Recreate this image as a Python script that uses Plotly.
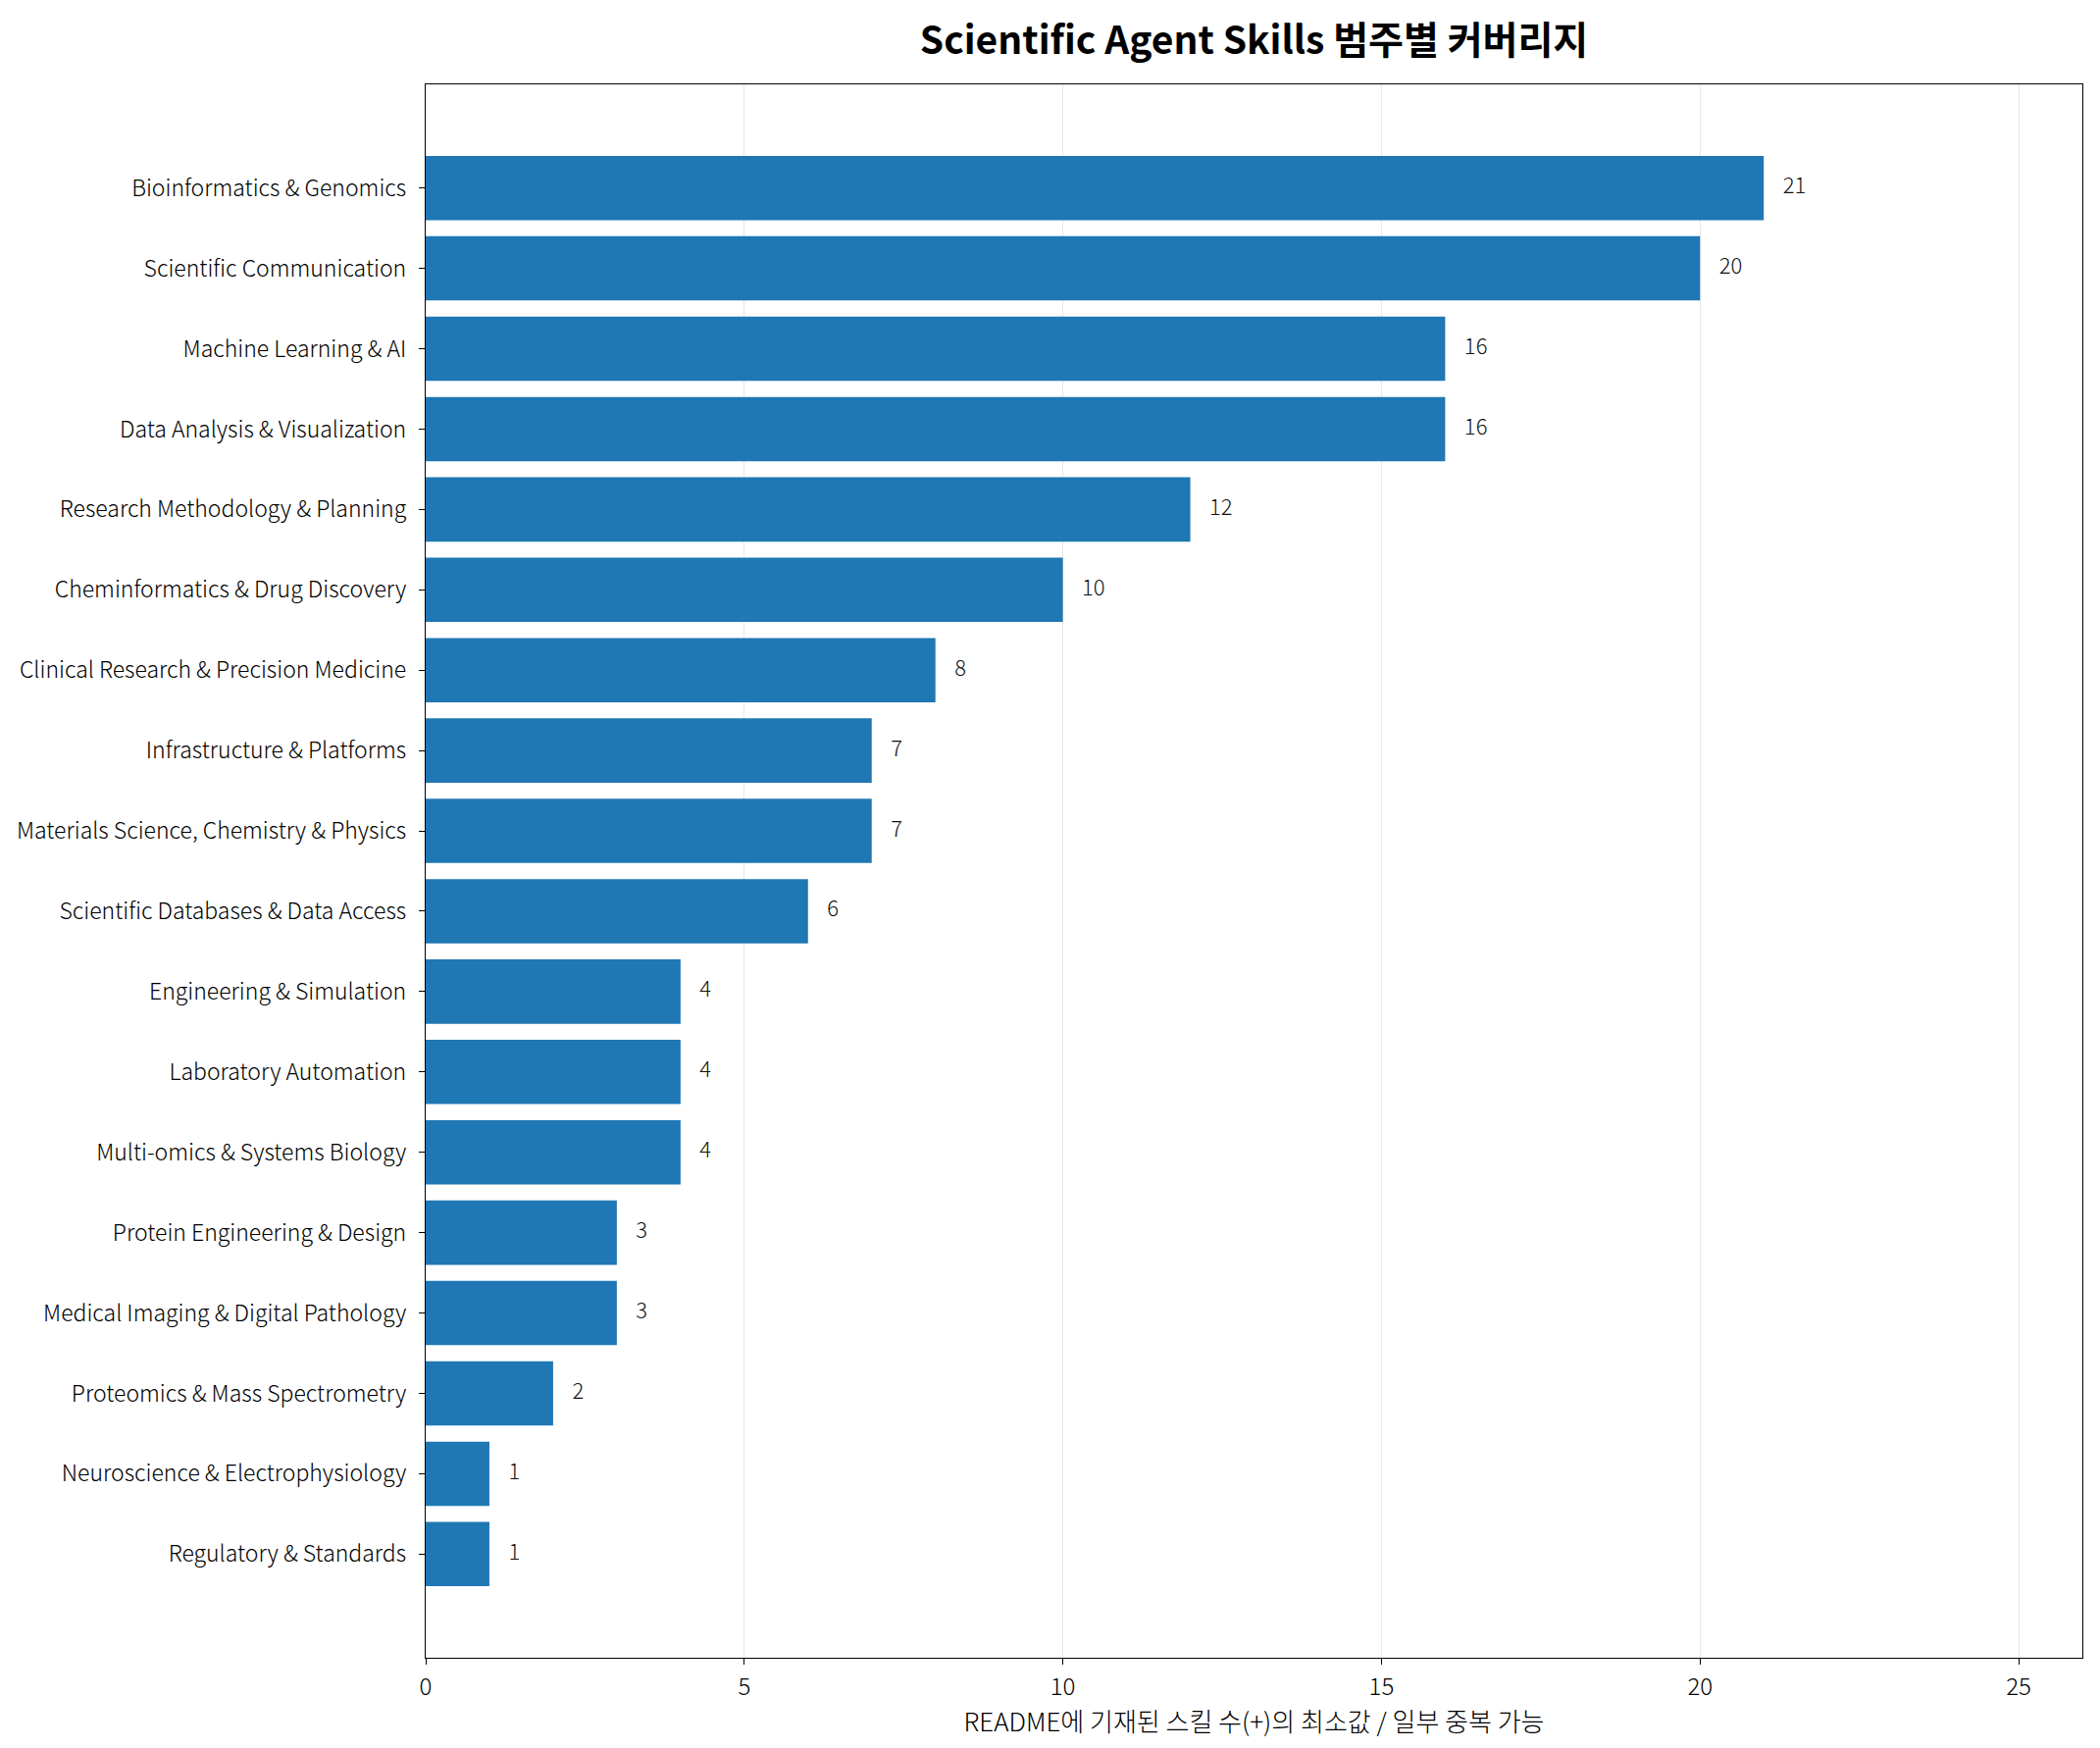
import plotly.graph_objects as go

categorias = [
    "Bioinformatics & Genomics",
    "Scientific Communication",
    "Machine Learning & AI",
    "Data Analysis & Visualization",
    "Research Methodology & Planning",
    "Cheminformatics & Drug Discovery",
    "Clinical Research & Precision Medicine",
    "Infrastructure & Platforms",
    "Materials Science, Chemistry & Physics",
    "Scientific Databases & Data Access",
    "Engineering & Simulation",
    "Laboratory Automation",
    "Multi-omics & Systems Biology",
    "Protein Engineering & Design",
    "Medical Imaging & Digital Pathology",
    "Proteomics & Mass Spectrometry",
    "Neuroscience & Electrophysiology",
    "Regulatory & Standards",
]
contagens = [21, 20, 16, 16, 12, 10, 8, 7, 7, 6, 4, 4, 4, 3, 3, 2, 1, 1]
ticks_x = [0, 5, 10, 15, 20, 25]

fonte = "Noto Sans CJK KR, Noto Sans, sans-serif"
n = len(categorias)

# a pagina tem 8px de margem no body, entao a figura fica um pouco menor
largura, altura = 2125, 1766

fig = go.Figure()

fig.add_trace(go.Bar(
    x=contagens, y=list(range(n)), orientation='h',
    marker=dict(color='#1f77b4', line=dict(width=0)),
    width=0.8, hoverinfo='skip', showlegend=False
))

fig.add_trace(go.Scatter(
    x=[v + 0.3 for v in contagens], y=list(range(n)),
    mode='text', text=[str(v) for v in contagens],
    textposition='middle right',
    textfont=dict(family=fonte, size=22, color='#111111', weight=300),
    hoverinfo='skip', showlegend=False
))

fig.update_layout(
    width=largura, height=altura,
    margin=dict(l=424, r=9, t=78, b=84),
    plot_bgcolor='white', paper_bgcolor='white',
    font=dict(family=fonte, size=22, color='black', weight=300),
    title=dict(
        text='<b>Scientific Agent Skills 범주별 커버리지</b>',
        x=0.5, xref='paper', xanchor='center',
        y=1 - 33 / altura, yanchor='middle',
        font=dict(family=fonte, size=39, color='black')
    ),
)

fig.update_xaxes(
    range=[0, 26], tickvals=ticks_x, ticktext=[str(t) for t in ticks_x],
    showgrid=True, gridcolor='rgba(176,176,176,0.3)', gridwidth=1.4,
    layer='above traces', zeroline=False,
    showline=True, linecolor='black', linewidth=1.4, mirror=True,
    ticks='outside', ticklen=6, tickwidth=1.4, tickcolor='black',
    tickfont=dict(size=24, weight=300), ticklabelstandoff=2,
    title=dict(text='README에 기재된 스킬 수(+)의 최소값 / 일부 중복 가능',
               font=dict(size=26, weight=300), standoff=2)
)
fig.update_yaxes(
    range=[n - 1 + 1.29, -1.29],
    tickvals=list(range(n)), ticktext=categorias,
    showgrid=False, zeroline=False,
    showline=True, linecolor='black', linewidth=1.4, mirror=True,
    ticks='outside', ticklen=6, tickwidth=1.4, tickcolor='black',
    tickfont=dict(size=23, weight=300), ticklabelstandoff=8
)

fig.write_html("out.html")
